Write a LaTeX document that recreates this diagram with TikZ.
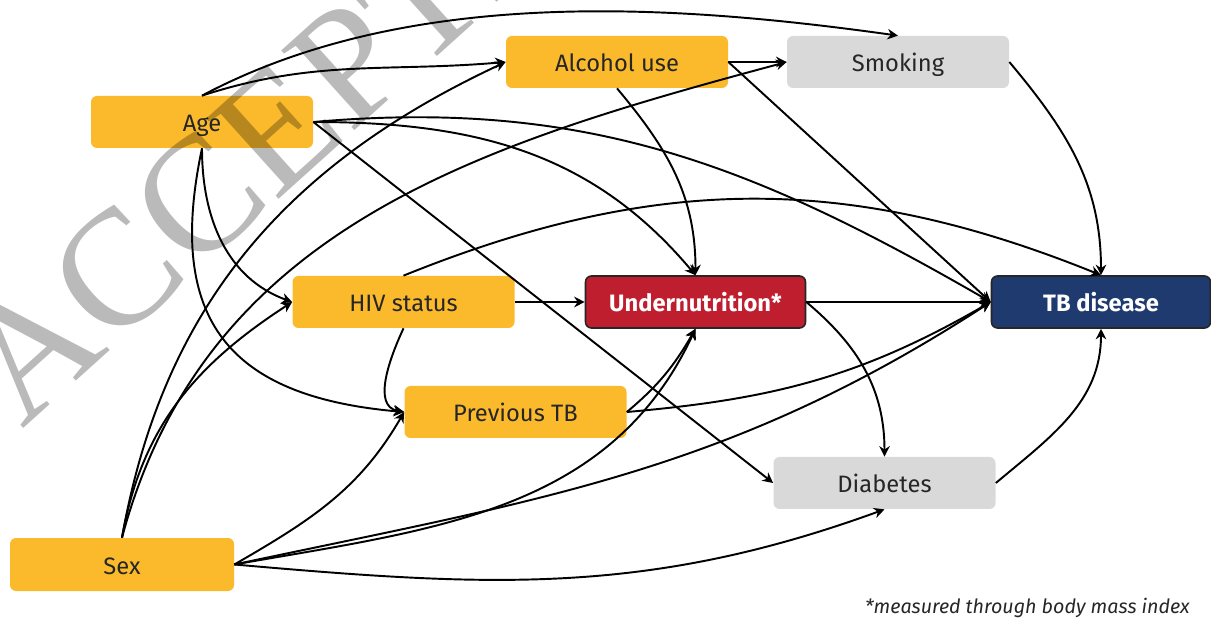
\documentclass[tikz,border=0pt]{standalone}
\usepackage{fontspec}
\setmainfont{Fira Sans}
\newfontfamily\markfont{Liberation Serif}
\usetikzlibrary{arrows.meta}

\definecolor{riskyellow}{HTML}{FBBA2B}
\definecolor{riskgray}{HTML}{D9D9D9}
\definecolor{nutred}{HTML}{BE1E2D}
\definecolor{tbblue}{HTML}{1E3A6E}

\tikzset{
  factor/.style={rectangle, rounded corners=0.12cm, minimum width=4.44cm, minimum height=1.04cm,
    inner sep=0pt, text height=11pt, text depth=0pt,
    fill=riskyellow, text=black!85, font=\fontsize{13.5}{16}\selectfont},
  lifestyle/.style={factor, fill=riskgray},
  keynode/.style={factor, draw=black!85, line width=0.9pt, text=white,
    font=\fontsize{13.5}{16}\selectfont\bfseries},
  link/.style={-{Stealth[length=6pt,width=6pt]}, line width=1.1pt},
}

\begin{document}
\begin{tikzpicture}
    \useasboundingbox (0,0) rectangle (24.22,12.44);

    \node[factor] (age) at (4.04,10.00) {Age};
    \node[factor] (alcohol) at (12.34,11.20) {Alcohol use};
    \node[lifestyle] (smoking) at (17.96,11.20) {Smoking};
    \node[factor] (hiv) at (8.07,6.40) {HIV status};
    \node[keynode, fill=nutred, minimum width=4.40cm] (undernut) at (13.91,6.40) {Undernutrition*};
    \node[keynode, fill=tbblue, minimum width=4.38cm] (tb) at (22.02,6.40) {TB disease};
    \node[factor] (prevtb) at (10.31,4.20) {Previous TB};
    \node[lifestyle] (diabetes) at (17.69,2.78) {Diabetes};
    \node[factor, minimum width=4.48cm, minimum height=1.06cm] (sex) at (2.44,1.15) {Sex};

    \node[anchor=east, inner sep=0pt, font=\fontsize{11.2}{13}\selectfont\itshape, text=black!85] (note)
        at (23.80,0.28) {*measured through body mass index};

%   age
    \draw[link] (age.north) to[out=28,in=172,looseness=0.85] (smoking.north);
    \draw[link] (age.north) to[out=18,in=185] (alcohol.west);
    \draw[link] (age.east) to[out=0,in=130] (undernut.north);
    \draw[link] (age.east) to[out=5,in=150] (tb.west);
    \draw[link] (age.east) -- (diabetes.west);
    \draw[link] (age.south) to[out=-90,in=160] (hiv.west);
    \draw[link] (age.south) to[out=-102,in=175,looseness=1.35] (prevtb.west);

%   sex
    \draw[link] (sex.north) to[out=80,in=205] (alcohol.west);
    \draw[link] (sex.north) to[out=75,in=195] (smoking.west);
    \draw[link] (sex.north) to[out=80,in=213] (hiv.west);
    \draw[link] (sex.east) to[out=30,in=240] (prevtb.west);
    \draw[link] (sex.east) to[out=10,in=245] (undernut.south);
    \draw[link] (sex.east) to[out=12,in=213] (tb.west);
    \draw[link] (sex.east) to[out=-5,in=200] (diabetes.south);

    \draw[link] (alcohol.east) -- (smoking.west);
    \draw[link] (alcohol.east) -- (tb.west);
    \draw[link] (alcohol.south) to[out=-50,in=90] (undernut.north);
    \draw[link] (smoking.east) to[out=-50,in=90] (tb.north);

    \draw[link] (hiv.east) -- (undernut.west);
    \draw[link] (hiv.north) to[out=22,in=158] (tb.north);
    \draw[link] (hiv.south) to[out=-115,in=170] (prevtb.west);

    \draw[link] (prevtb.east) to[out=40,in=240] (undernut.south);
    \draw[link] (prevtb.east) to[out=5,in=210] (tb.west);

    \draw[link] (undernut.east) -- (tb.west);
    \draw[link] (undernut.east) to[out=-40,in=90] (diabetes.north);
    \draw[link] (diabetes.east) to[out=40,in=-90] (tb.south);

%   watermark
    \begin{scope}
    \clip (0,0) rectangle (24.22,12.44);
    \node[anchor=base west, rotate=42, inner sep=0pt, text=black, text opacity=0.27,
        font=\markfont\fontsize{94}{94}\selectfont] (mark) at (0.45,3.85) {ACCEPTED};
    \end{scope}
\end{tikzpicture}
\end{document}
